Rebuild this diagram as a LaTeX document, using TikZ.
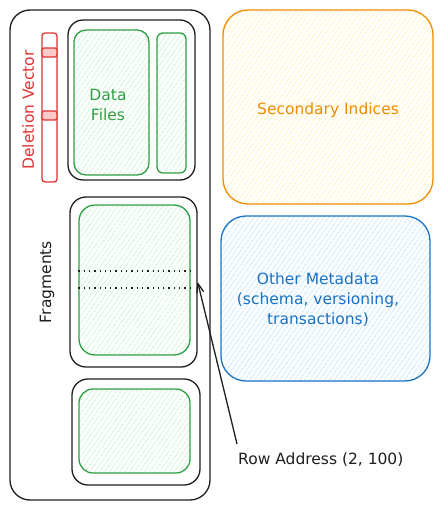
\documentclass[tikz,border=0pt]{standalone}
\usepackage{fontspec}
\setmainfont{DejaVu Sans}
\definecolor{DVRed}{HTML}{E03131}
\definecolor{DVRedFill}{HTML}{FFC9C9}
\definecolor{FileGreen}{HTML}{2F9E44}
\definecolor{FileGreenFill}{HTML}{9FE8AA}
\definecolor{IdxOrange}{HTML}{F08C00}
\definecolor{IdxOrangeFill}{HTML}{FFE680}
\definecolor{MetaBlue}{HTML}{1971C2}
\definecolor{MetaBlueFill}{HTML}{94CFFF}
\definecolor{InkBlack}{HTML}{1E1E1E}
\usetikzlibrary{positioning, arrows.meta, patterns.meta}

\tikzset{
  box/.style={draw=InkBlack, line width=1.3pt, rounded corners=#1, inner sep=0pt},
  box/.default=16pt,
  hatched/.style={pattern={Lines[angle=55,distance=4pt,line width=0.8pt]}, pattern color=#1},
  label/.style={font=\fontsize{15.5}{20}\selectfont, align=center, inner sep=0pt},
  rowline/.style={InkBlack, line width=1.3pt, dash pattern=on 1.3pt off 4pt}
}

\begin{document}
\begin{tikzpicture}[x=1pt, y=-1pt]
\useasboundingbox (0,0) rectangle (443,511);
% table with its fragments
\node[box=20pt, minimum width=200pt, minimum height=490pt] (table) at (110,255) {};
\node[box=3pt, draw=DVRed, minimum width=15pt, minimum height=149pt] (dvbar) at (49.5,107.5) {};
\node[box=2pt, draw=DVRed, fill=DVRedFill, minimum width=15pt, minimum height=9pt] (dvmarkA) at (49.5,52.5) {};
\node[box=2pt, draw=DVRed, fill=DVRedFill, minimum width=15pt, minimum height=9pt] (dvmarkB) at (49.5,115.5) {};
\node[label, DVRed, rotate=90] (dvlabel) at (28,110) {Deletion Vector};

\node[box=15pt, minimum width=127pt, minimum height=160pt] (fileframe) at (131.5,100) {};
\node[box=12pt, draw=FileGreen, hatched=FileGreenFill, minimum width=75pt, minimum height=145pt] (datafiles) at (111.5,102.5) {};
\node[box=6pt, draw=FileGreen, hatched=FileGreenFill, minimum width=29pt, minimum height=140pt] (sidefile) at (171.5,103) {};
\node[label, FileGreen] (filelabel) at (108,105) {Data\\Files};

\node[label, InkBlack, rotate=90] (fraglabel) at (47,282) {Fragments};
\node[box, minimum width=127pt, minimum height=170pt] (fragA) at (133.5,282) {};
\node[box, draw=FileGreen, hatched=FileGreenFill, minimum width=111pt, minimum height=150pt] (fragAdata) at (134.5,280) {};
\draw[rowline] (fragAdata.west |- 0,271) -- (fragAdata.east |- 0,271);
\draw[rowline] (fragAdata.west |- 0,288) -- (fragAdata.east |- 0,288);
\node[box, minimum width=128pt, minimum height=106pt] (fragB) at (136,432) {};
\node[box=14pt, draw=FileGreen, hatched=FileGreenFill, minimum width=111pt, minimum height=84pt] (fragBdata) at (134.5,431) {};

% metadata on the right
\node[box=25pt, draw=IdxOrange, hatched=IdxOrangeFill, minimum width=210pt, minimum height=194pt] (secidx) at (328,107) {};
\node[label, IdxOrange] at (328,110) {Secondary Indices};
\node[box=25pt, draw=MetaBlue, hatched=MetaBlueFill, minimum width=209pt, minimum height=165pt] (meta) at (325.5,298.5) {};
\node[label, MetaBlue] at (318,300) {Other Metadata\\(schema, versioning,\\transactions)};

% row address pointer
\node[label, InkBlack, anchor=west] (rowaddr) at (238,460) {Row Address (2, 100)};
\draw[InkBlack, line width=1.3pt, -{Straight Barb[length=9pt,width=7pt]}] ([shift={(-1,-9)}]rowaddr.north west) -- (fragA.east);
\end{tikzpicture}
\end{document}
